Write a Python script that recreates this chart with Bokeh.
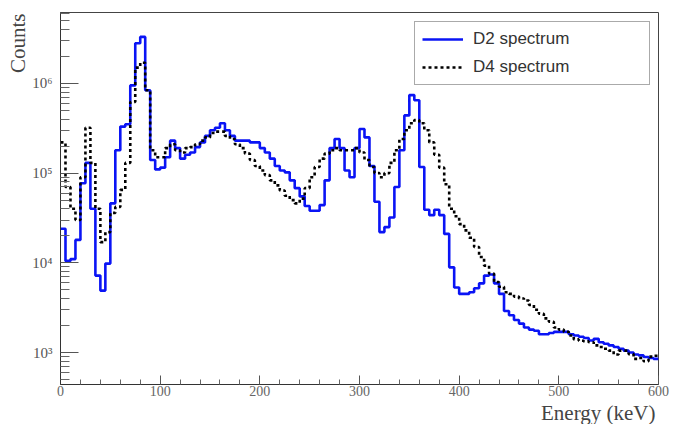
from bokeh.plotting import figure
from bokeh.models import (Range1d, FixedTicker, CustomJSTickFormatter, Legend, LegendItem, Title)
from bokeh.embed import file_html
from bokeh.resources import INLINE

# ---- data (5 keV bins, 0..600 keV) ----
bin_width = 5
d2_counts = [
    2.4e4, 1.05e4, 1.1e4, 1.8e4, 7.7e4, 1.3e5, 4.0e4, 7.2e3, 4.9e3, 9.8e3,
    4.6e4, 1.8e5, 3.3e5, 3.5e5, 9.5e5, 2.8e6, 3.3e6, 8.4e5, 1.4e5, 1.1e5,
    1.15e5, 1.5e5, 2.3e5, 1.9e5, 1.45e5, 1.6e5, 1.7e5, 1.95e5, 2.2e5, 2.6e5,
    3.0e5, 3.2e5, 3.6e5, 3.0e5, 2.6e5, 2.3e5, 2.3e5, 2.3e5, 2.2e5, 2.2e5,
    1.9e5, 1.7e5, 1.45e5, 1.2e5, 1.07e5, 1.02e5, 8.3e4, 6.8e4, 5.5e4, 4.3e4,
    3.8e4, 3.8e4, 4.4e4, 8.3e4, 1.9e5, 2.4e5, 1.9e5, 1.07e5, 9.0e4, 1.9e5,
    3.1e5, 2.5e5, 1.2e5, 4.8e4, 2.2e4, 2.5e4, 3.2e4, 7.0e4, 1.8e5, 4.4e5,
    7.4e5, 6.5e5, 1.17e5, 3.9e4, 3.4e4, 3.9e4, 3.4e4, 2.1e4, 8.9e3, 5.3e3,
    4.5e3, 4.5e3, 4.7e3, 5.2e3, 5.9e3, 7.2e3, 7.4e3, 5.9e3, 4.5e3, 2.9e3,
    2.6e3, 2.3e3, 2.1e3, 1.9e3, 1.8e3, 1.75e3, 1.6e3, 1.6e3, 1.65e3, 1.7e3,
    1.7e3, 1.7e3, 1.6e3, 1.55e3, 1.5e3, 1.45e3, 1.36e3, 1.42e3, 1.3e3, 1.25e3,
    1.2e3, 1.15e3, 1.1e3, 1.05e3, 1.0e3, 950, 930, 890, 870, 850,
]
d4_counts = [
    2.2e5, 7.0e4, 4.0e4, 3.0e4, 9.0e4, 3.2e5, 1.3e5, 4.0e4, 1.7e4, 2.2e4,
    3.6e4, 4.2e4, 6.5e4, 1.3e5, 6.2e5, 1.5e6, 1.7e6, 8.4e5, 1.8e5, 1.5e5,
    1.5e5, 1.9e5, 2.1e5, 1.8e5, 1.7e5, 1.9e5, 1.95e5, 2.1e5, 2.3e5, 2.5e5,
    2.8e5, 2.9e5, 2.9e5, 2.6e5, 2.4e5, 2.1e5, 1.9e5, 1.65e5, 1.4e5, 1.2e5,
    1.07e5, 9.5e4, 8.3e4, 7.3e4, 6.4e4, 5.6e4, 5.0e4, 4.6e4, 5.2e4, 6.8e4,
    9.0e4, 1.17e5, 1.45e5, 1.65e5, 1.8e5, 1.9e5, 1.8e5, 1.8e5, 1.8e5, 1.9e5,
    1.7e5, 1.4e5, 1.17e5, 1.0e5, 9.0e4, 1.0e5, 1.3e5, 1.8e5, 2.4e5, 3.0e5,
    3.6e5, 3.9e5, 3.6e5, 3.0e5, 2.2e5, 1.6e5, 1.15e5, 7.5e4, 4.0e4, 3.3e4,
    2.7e4, 2.3e4, 1.9e4, 1.5e4, 1.16e4, 9.3e3, 7.6e3, 6.1e3, 5.4e3, 4.7e3,
    4.5e3, 4.2e3, 4.0e3, 3.8e3, 3.4e3, 3.0e3, 2.7e3, 2.4e3, 2.2e3, 1.9e3,
    1.8e3, 1.7e3, 1.55e3, 1.4e3, 1.35e3, 1.33e3, 1.3e3, 1.2e3, 1.15e3, 1.1e3,
    1.05e3, 950, 1.05e3, 1.05e3, 960, 850, 870, 800, 900, 920,
]
x_major_ticks = [0, 100, 200, 300, 400, 500, 600]
y_major_ticks = [1e3, 1e4, 1e5, 1e6]
series_labels = ["D2 spectrum", "D4 spectrum"]
x_title = "Energy (keV)"
y_title = "Counts"

edges = [i * bin_width for i in range(len(d2_counts) + 1)]
d2_y = d2_counts + [d2_counts[-1]]
d4_y = d4_counts + [d4_counts[-1]]

p = figure(width=680, height=424, x_range=Range1d(0, 600), y_range=Range1d(440, 6.17e6),
           y_axis_type="log", output_backend="svg", toolbar_location=None,
           min_border_left=60, min_border_right=22, min_border_top=12, min_border_bottom=40)
p.background_fill_color = "white"
p.border_fill_color = "white"
p.outline_line_color = "#444444"
p.outline_line_width = 1
p.xgrid.visible = False
p.ygrid.visible = False

r2 = p.step(x=edges, y=d2_y, mode="after", line_color="#0a14f5", line_width=2.6)
r4 = p.step(x=edges, y=d4_y, mode="after", line_color="black", line_width=2.6, line_dash="3 3")

# x axis
x_minor = [v for v in range(0, 601, 20) if v not in x_major_ticks]
p.xaxis.ticker = FixedTicker(ticks=x_major_ticks, minor_ticks=x_minor)
p.xaxis.major_tick_in = 9
p.xaxis.major_tick_out = 0
p.xaxis.minor_tick_in = 5
p.xaxis.minor_tick_out = 0
p.xaxis.major_label_standoff = 1
p.xaxis.major_label_text_font = "Liberation Serif"
p.xaxis.major_label_text_font_size = "14px"
p.xaxis.major_label_text_color = "#666666"

# y axis
y_minor = []
for d in range(2, 7):
    for k in range(2, 10):
        y_minor.append(k * 10 ** d)
p.yaxis.ticker = FixedTicker(ticks=y_major_ticks, minor_ticks=y_minor)
p.yaxis.formatter = CustomJSTickFormatter(code="""
const sup = {'0':'\u2070','1':'\u00b9','2':'\u00b2','3':'\u00b3','4':'\u2074','5':'\u2075','6':'\u2076','7':'\u2077','8':'\u2078','9':'\u2079','-':'\u207b'};
const e = Math.round(Math.log10(tick));
return '10' + String(e).split('').map(c => sup[c]).join('');
""")
p.yaxis.major_tick_in = 18
p.yaxis.major_tick_out = 0
p.yaxis.minor_tick_in = 9
p.yaxis.minor_tick_out = 0
p.yaxis.major_label_standoff = 8
p.yaxis.major_label_text_font = "Liberation Serif"
p.yaxis.major_label_text_font_size = "15px"
p.yaxis.major_label_text_color = "#555555"

for ax in (p.xaxis, p.yaxis):
    ax.axis_line_color = "#333333"
    ax.major_tick_line_color = "#555555"
    ax.minor_tick_line_color = "#666666"

# axis titles at the axis ends (ROOT style)
xt = Title(text=x_title, align="right", offset=3, standoff=0,
           text_font="Liberation Serif", text_font_style="normal",
           text_font_size="21px", text_color="#444444")
p.add_layout(xt, "below")
yt = Title(text=y_title, align="right", offset=1, standoff=0,
           text_font="Liberation Serif", text_font_style="normal",
           text_font_size="21px", text_color="#444444")
p.add_layout(yt, "left")

legend = Legend(items=[LegendItem(label=series_labels[0], renderers=[r2]),
                       LegendItem(label=series_labels[1], renderers=[r4])],
                location=(354, 299), padding=7, margin=0, spacing=8,
                glyph_width=41, glyph_height=20, label_height=20, label_width=169,
                label_standoff=10,
                label_text_font="Liberation Sans", label_text_font_size="17px",
                label_text_color="#333333",
                border_line_color="#555555", border_line_width=1,
                background_fill_color="white", background_fill_alpha=1)
p.add_layout(legend)

open("out.html", "w").write(file_html(p, INLINE))
